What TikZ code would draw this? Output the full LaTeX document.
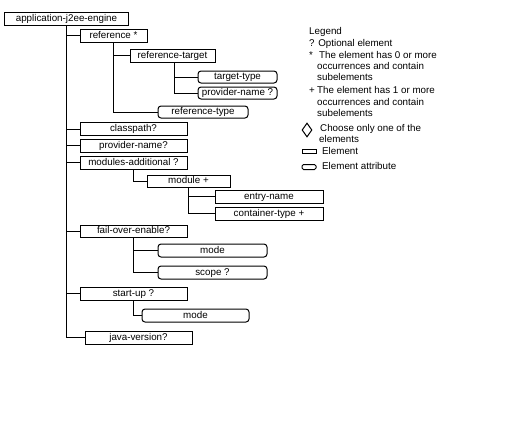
\documentclass[tikz,border=0pt]{standalone}
\usepackage{fontspec}
\setmainfont{Liberation Sans}
\usetikzlibrary{shapes.geometric}
\begin{document}
\begin{tikzpicture}[x=1bp,y=-1bp,
  elem/.style={draw, line width=1bp, minimum height=13bp, inner sep=0pt,
    font=\fontsize{9.8bp}{11bp}\selectfont, text height=7bp, text depth=2bp},
  attr/.style={elem, rounded corners=3bp},
  conn/.style={line width=1bp},
  leg/.style={anchor=west, inner sep=0pt, font=\fontsize{9.8bp}{11bp}\selectfont,
    text height=7bp, text depth=2bp}]
\useasboundingbox (0,0) rectangle (510,425);
% tree nodes
\node[elem, minimum width=123bp] (root) at (66.5,19) {application-j2ee-engine};
\node[elem, minimum width=67bp] (ref) at (113.5,35.5) {reference *};
\node[elem, minimum width=85bp] (reftgt) at (172.5,55.5) {reference-target};
\node[attr, minimum width=79bp, minimum height=12bp] (tgttype) at (237.5,77) {target-type};
\node[attr, minimum width=79bp, minimum height=12bp] (provname1) at (237.5,93) {provider-name ?};
\node[attr, minimum width=90bp, minimum height=12bp] (reftype) at (203,112) {reference-type};
\node[elem, minimum width=107bp] (classpath) at (133.5,129) {classpath?};
\node[elem, minimum width=107bp] (provname2) at (133.5,145.5) {provider-name?};
\node[elem, minimum width=107bp] (modadd) at (133.5,162.5) {modules-additional ?};
\node[elem, minimum width=83bp, minimum height=12bp] (module) at (188.5,181) {module +};
\node[elem, minimum width=108bp] (entry) at (269,196.5) {entry-name};
\node[elem, minimum width=108bp] (contype) at (269,213.5) {container-type +};
\node[elem, minimum width=107bp, minimum height=12bp] (failover) at (133.5,231) {fail-over-enable?};
\node[attr, minimum width=109bp] (mode1) at (212.5,250.5) {mode};
\node[attr, minimum width=109bp] (scope) at (212.5,272.5) {scope ?};
\node[elem, minimum width=107bp] (startup) at (133.5,293.5) {start-up ?};
\node[attr, minimum width=107bp] (mode2) at (195.5,315.5) {mode};
\node[elem, minimum width=107bp] (javaver) at (138.5,337.5) {java-version?};
% connectors
\foreach \c in {ref,classpath,provname2,modadd,failover,startup,javaver}
  \draw[conn] (root.south) |- (\c.west);
\foreach \c in {reftgt,reftype}
  \draw[conn] (ref.south) |- (\c.west);
\foreach \c in {tgttype,provname1}
  \draw[conn] ([xshift=1.5bp]reftgt.south) |- (\c.west);
\draw[conn] (modadd.south) |- (module.west);
\foreach \c in {entry,contype}
  \draw[conn] (module.south) |- (\c.west);
\foreach \c in {mode1,scope}
  \draw[conn] (failover.south) |- (\c.west);
\draw[conn] (startup.south) |- (mode2.west);
% legend
\node[leg] (lg0) at (309,32) {Legend};
\node[leg] (lg1) at (309,43.5) {? Optional element};
\node[leg] (lg2s) at (309,55.5) {*};
\node[leg] (lg2) at (319,55.5) {The element has 0 or more};
\node[leg] (lg3) at (317,67) {occurrences and contain};
\node[leg] (lg4) at (317,78) {subelements};
\node[leg] (lg5s) at (309,90.5) {+};
\node[leg] (lg5) at (317,90.5) {The element has 1 or more};
\node[leg] (lg6) at (317,102.5) {occurrences and contain};
\node[leg] (lg7) at (317,113.5) {subelements};
\node[draw, line width=1bp, diamond, inner sep=0pt, minimum width=10bp, minimum height=14bp] (dia) at (307,130) {};
\node[leg] (lg8) at (320,128.5) {Choose only one of the};
\node[leg] (lg9) at (319,140) {elements};
\node[draw, line width=1bp, inner sep=0pt, minimum width=14bp, minimum height=4bp] (recel) at (309,151.5) {};
\node[leg] (lg10) at (322,152) {Element};
\node[draw, line width=1bp, rounded corners=1.5bp, inner sep=0pt, minimum width=14bp, minimum height=5bp] (recat) at (309,167) {};
\node[leg] (lg11) at (322,167) {Element attribute};
\end{tikzpicture}
\end{document}
